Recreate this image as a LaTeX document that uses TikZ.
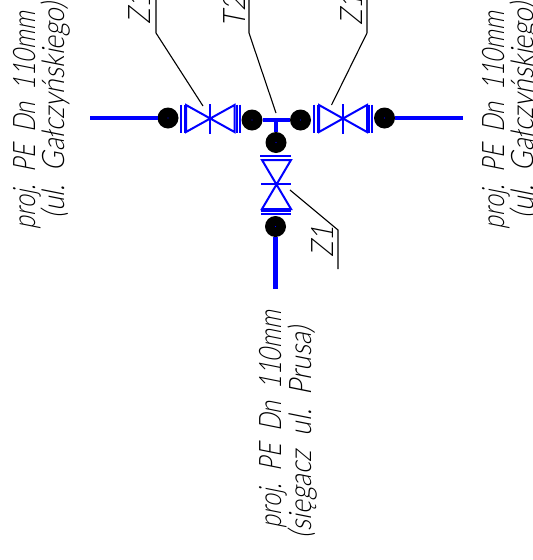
\documentclass[tikz,border=0pt]{standalone}
\usepackage{fontspec}
\newfontfamily\cadfont[FakeSlant=0.2,FakeStretch=0.75]{Lato Light}
\newfontfamily\cadwide[FakeSlant=0.2,FakeStretch=0.85]{Lato Light}
\definecolor{pipeblue}{RGB}{0,0,255}
\tikzset{
  pipe/.style={draw=pipeblue,line width=4.8pt},
  valveline/.style={draw=pipeblue,line width=2pt},
  joint/.style={circle,fill=black,minimum size=21pt,inner sep=0pt,outer sep=0pt},
  leader/.style={draw=black,line width=1.1pt},
  cadtext/.style={font=\cadfont\fontsize{31}{31}\selectfont,rotate=90,anchor=base west,inner sep=0pt,outer sep=0pt,text=black},
  cadline/.style={cadtext,font=\cadwide\fontsize{31}{31}\selectfont},
}
\begin{document}
\begin{tikzpicture}[x=1pt,y=-1pt]
\useasboundingbox (0,0) rectangle (533,560);
\clip (0,0) rectangle (533,560);
\coordinate (pl) at (90,118);
\coordinate (pr) at (463,118);
\coordinate (pb) at (275.5,289);
\coordinate (tee) at (276,120);
\node[joint] (j1) at (168,118) {};
\node[joint] (j2) at (252,120) {};
\node[joint] (j3) at (300.5,120) {};
\node[joint] (j4) at (384.5,118) {};
\node[joint] (j5) at (276,142.5) {};
\node[joint] (j6) at (275.5,226.5) {};
\draw[pipe] (pl) -- (j1);
\draw[pipe] (j4) -- (pr);
\draw[pipe] (j6) -- (pb);
\draw[pipe] (j2) -- (j3);
\draw[pipe] (tee) -- (j5);
\foreach \n in {j1,j2,j3,j4,j5,j6} \fill[pipeblue] (\n.center) circle (0.6pt);
% left valve
\draw[valveline] (181,104.5) -- (181,133);
\draw[valveline] (184.5,104.5) -- (184.5,133);
\draw[valveline] (186,105) -- (234.5,132) -- (234.5,105) -- (186,132) -- cycle;
\draw[valveline] (210,104) -- (210,134);
\draw[valveline] (237,104.5) -- (237,133);
\draw[valveline] (240,104.5) -- (240,133);
% right valve
\draw[valveline] (314,104.5) -- (314,133);
\draw[valveline] (317.5,104.5) -- (317.5,133);
\draw[valveline] (319,105) -- (367,132) -- (367,105) -- (319,132) -- cycle;
\draw[valveline] (343,104) -- (343,134);
\draw[valveline] (368.5,104.5) -- (368.5,133);
\draw[valveline] (371.5,104.5) -- (371.5,133);
% lower valve
\draw[valveline] (260,156) -- (291,156);
\draw[valveline] (262,160) -- (291,209) -- (262,209) -- (291,160) -- cycle;
\draw[valveline] (261,184) -- (291,184);
\draw[valveline] (261,210.5) -- (291,210.5);
\draw[valveline] (261,213.5) -- (291,213.5);
% leaders
\coordinate (a1) at (156,0); \coordinate (a2) at (156,33); \coordinate (a3) at (203,106);
\coordinate (b1) at (249,0); \coordinate (b2) at (249,33); \coordinate (b3) at (276,113);
\coordinate (c1) at (367,0); \coordinate (c2) at (367,33); \coordinate (c3) at (331.5,105);
\coordinate (d1) at (338,269); \coordinate (d2) at (338,230); \coordinate (d3) at (290,190);
\draw[leader] (a1) -- (a2) -- (a3);
\draw[leader] (b1) -- (b2) -- (b3);
\draw[leader] (c1) -- (c2) -- (c3);
\draw[leader] (d1) -- (d2) -- (d3);
% labels
\node[cadline] (t1) at (150,24) {Z1};
\node[cadline] (t2) at (245,27) {T2};
\node[cadline] (t3) at (362,25) {Z1};
\node[cadline] (t4) at (333,257) {Z1};
\node[cadtext] (l1) at (35,229) {proj.\ \ PE\ \ Dn\ \ 110mm};
\node[cadline] (l2) at (64,218) {(ul.\ \ Gałczyńskiego)};
\node[cadtext] (r1) at (504,229) {proj.\ \ PE\ \ Dn\ \ 110mm};
\node[cadline] (r2) at (533,218) {(ul.\ \ Gałczyńskiego)};
\node[cadtext] (b1t) at (281,528) {proj.\ \ PE\ \ Dn\ \ 110mm};
\node[cadline] (b2t) at (311,538) {(sięgacz\ \ ul.\ \ Prusa)};
\end{tikzpicture}
\end{document}
